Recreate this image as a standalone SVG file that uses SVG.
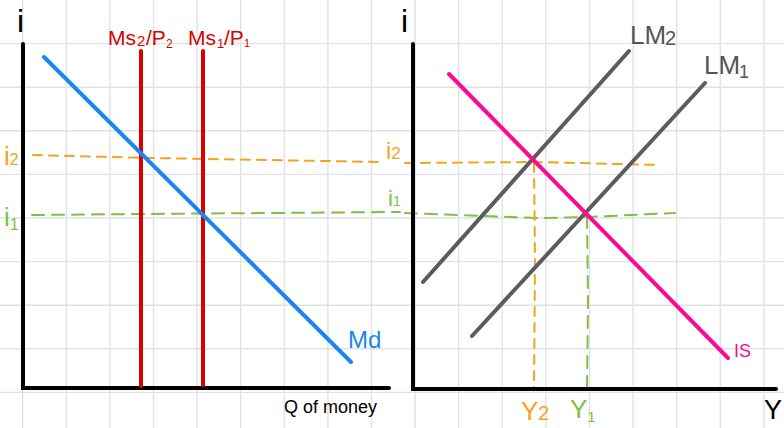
<svg xmlns="http://www.w3.org/2000/svg" width="784" height="428" viewBox="0 0 784 428">
<defs>
<style>
.grid{stroke:#e2e2e2;stroke-width:1.4;fill:none}
.axis{stroke:#000;stroke-width:4;fill:none;stroke-linecap:round}
.ms{stroke:#d90000;stroke-width:4;fill:none;stroke-linecap:round}
.md{stroke:#1a86f2;stroke-width:4;fill:none;stroke-linecap:round}
.lm{stroke:#5c5c5c;stroke-width:4;fill:none;stroke-linecap:round}
.is{stroke:#fb0a96;stroke-width:4;fill:none;stroke-linecap:round}
.dor{stroke:#f7a21c;stroke-width:2;fill:none;stroke-dasharray:9 7;stroke-linecap:round}
.dgr{stroke:#7cc242;stroke-width:2;fill:none;stroke-dasharray:12 8;stroke-linecap:round}
text{font-family:"Liberation Sans","DejaVu Sans",sans-serif}
.t-red{fill:#d90000;font-size:21px}
.t-gray{fill:#555;font-size:26px}
.t-or{fill:#f7a21c}
.t-gr{fill:#7cc242}
.t-blk{fill:#000}
</style>
</defs>
<rect width="784" height="428" fill="#fff"/>
<g id="grid">
<path class="grid" d="M22.7 0V428M66.3 0V428M109.9 0V428M153.5 0V428M197.1 0V428M240.7 0V428M284.3 0V428M327.9 0V428M371.5 0V428M415.1 0V428M458.7 0V428M502.3 0V428M545.9 0V428M589.5 0V428M633.1 0V428M676.7 0V428M720.3 0V428M763.9 0V428M0 43.6H784M0 87.2H784M0 130.8H784M0 174.4H784M0 218H784M0 261.6H784M0 305.2H784M0 348.8H784M0 392.4H784"/>
</g>
<g id="connectors">
<path class="dor" d="M33 155 L150 158 L383 162"/>
<path class="dgr" d="M32 215 L140 214 L400 212"/>
<path class="dor" d="M405 163 L534 162 L660 165"/>
<path class="dgr" d="M405 213 L540 218 L587 217 L675 213"/>
<path class="dor" d="M534 163 L535 260 L534 390"/>
<path class="dgr" d="M587 216 L588 300 L587 390"/>
</g>
<g id="left-axes">
<path class="axis" d="M23 44 V388 H389"/>
<text class="t-blk" x="17" y="32" font-size="32">i</text>
<text class="t-blk" x="284" y="413" font-size="18">Q of money</text>
</g>
<g id="ms2">
<path class="ms" d="M141 51 V386"/>
<text class="t-red"><tspan x="108" y="45">Ms</tspan><tspan x="137" y="46" font-size="15">2</tspan><tspan x="146" y="45">/P</tspan><tspan x="166" y="48" font-size="12">2</tspan></text>
</g>
<g id="ms1">
<path class="ms" d="M203 51 V385"/>
<text class="t-red"><tspan x="188" y="45">Ms</tspan><tspan x="217" y="48" font-size="13">1</tspan><tspan x="224" y="45">/P</tspan><tspan x="244" y="47" font-size="11">1</tspan></text>
</g>
<g id="md">
<path class="md" d="M44 57 L351 362"/>
<text fill="#1a86f2" x="348" y="348" font-size="24">Md</text>
</g>
<g id="i-labels-left">
<text class="t-or" x="4" y="165" font-size="26">i<tspan font-size="16">2</tspan></text>
<text class="t-gr" x="4" y="226" font-size="26">i<tspan font-size="16" dy="4">1</tspan></text>
</g>
<g id="right-axes">
<path class="axis" d="M413 44 V389 H776"/>
<text class="t-blk" x="401" y="32" font-size="32">i</text>
<text class="t-blk" x="764" y="419" font-size="27">Y</text>
</g>
<g id="i-labels-right">
<text class="t-or" x="386" y="159" font-size="24">i<tspan font-size="17">2</tspan></text>
<text class="t-gr" x="388" y="206" font-size="22">i<tspan font-size="14">1</tspan></text>
</g>
<g id="lm2">
<path class="lm" d="M423 282 L629 51"/>
<text class="t-gray"><tspan x="630" y="44">LM</tspan><tspan x="665" y="45" font-size="20">2</tspan></text>
</g>
<g id="lm1">
<path class="lm" d="M472 336 L705 83"/>
<text class="t-gray"><tspan x="704" y="74">LM</tspan><tspan x="739" y="78" font-size="18">1</tspan></text>
</g>
<g id="is">
<path class="is" d="M449 74 L728 358"/>
<text fill="#fb0a96" x="734" y="357" font-size="18">IS</text>
</g>
<g id="y-labels">
<text class="t-or" x="521" y="420" font-size="26">Y<tspan font-size="20">2</tspan></text>
<text class="t-gr" x="570" y="418" font-size="26">Y<tspan font-size="15" dy="4">1</tspan></text>
</g>
</svg>
